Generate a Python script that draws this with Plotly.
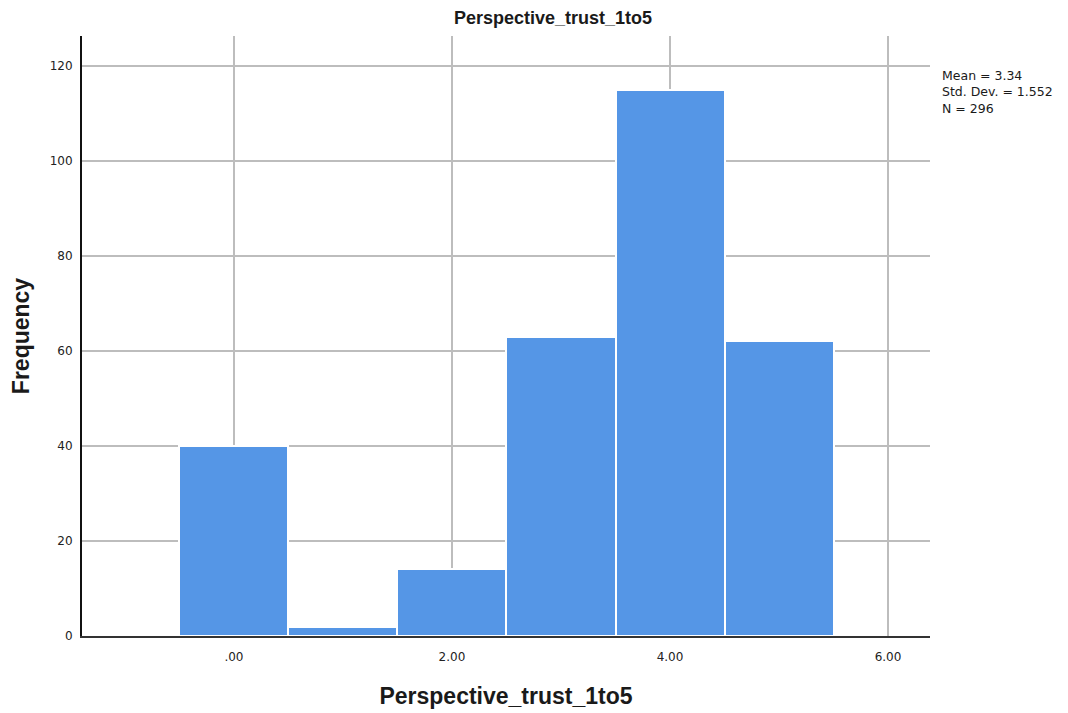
import plotly.graph_objects as go

categories = [0, 1, 2, 3, 4, 5]
frequencies = [40, 2, 14, 63, 115, 62]
x_tick_vals = [0, 2, 4, 6]
x_tick_text = [".00", "2.00", "4.00", "6.00"]
y_tick_vals = [0, 20, 40, 60, 80, 100, 120]
stats_lines = ["Mean = 3.34", "Std. Dev. = 1.552", "N = 296"]
title_text = "Perspective_trust_1to5"

FONT = "Liberation Sans, Arial, sans-serif"
TICKFONT = "DejaVu Sans, sans-serif"

W, H = 1060, 705  # page has 8px body margin
fig = go.Figure()
fig.add_trace(go.Bar(
    x=categories, y=frequencies, width=1,
    marker=dict(color="#5596E6", line=dict(color="white", width=2)),
    hoverinfo="x+y", showlegend=False,
))

fig.update_layout(
    width=W, height=H,
    margin=dict(l=74, r=138, t=28, b=77),
    paper_bgcolor="white", plot_bgcolor="white",
    font=dict(family=FONT, color="#222222"),
    title=dict(text="<b>" + title_text + "</b>", x=(553 - 8) / W, xanchor="center",
               y=1 - 10 / H, yanchor="middle", font=dict(size=18, color="#1a1a1a"),
               automargin=False),
    bargap=0,
    xaxis=dict(
        range=[-1.394, 6.385], tickvals=x_tick_vals, ticktext=x_tick_text,
        showgrid=True, gridcolor="#bdbdbd", gridwidth=1.5,
        showline=True, linecolor="#333333", linewidth=2, zeroline=False,
        ticks="", ticklabelstandoff=9, automargin=False,
        tickfont=dict(size=12, color="#222222", family=TICKFONT),
        title=dict(text="<b>" + title_text + "</b>", font=dict(size=23, color="#1a1a1a"), standoff=24),
    ),
    yaxis=dict(
        range=[0, 126.3], tickvals=y_tick_vals,
        showgrid=True, gridcolor="#bdbdbd", gridwidth=1.5,
        showline=True, linecolor="#111111", linewidth=2, zeroline=False,
        ticks="", ticklabelstandoff=5, automargin=False,
        tickfont=dict(size=12, color="#222222", family=TICKFONT),
        title=dict(text="<b>Frequency</b>", font=dict(size=23, color="#1a1a1a"), standoff=20),
    ),
)

fig.add_annotation(text="<br>".join(stats_lines), xref="paper", yref="paper",
                   x=(940 - 82) / 848, y=(636 - 66) / 600,
                   xanchor="left", yanchor="top", align="left", showarrow=False,
                   font=dict(size=12.5, color="#1a1a1a", family=TICKFONT))

fig.write_html("out.html")
